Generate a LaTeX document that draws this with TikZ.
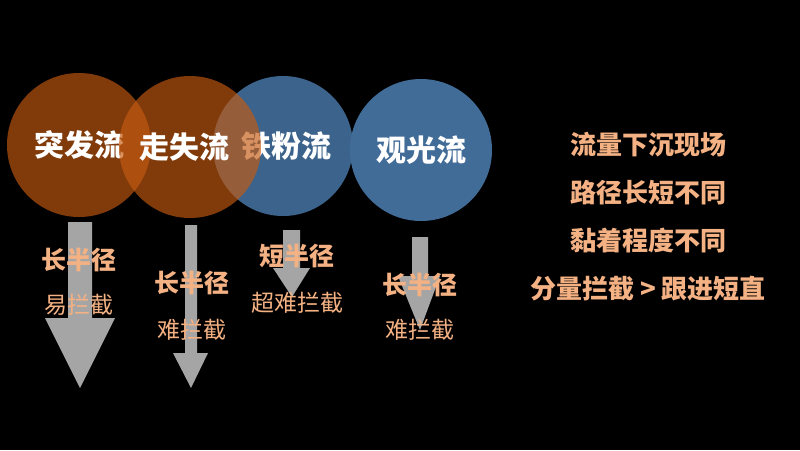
\documentclass[tikz,border=0pt]{standalone}
\usepackage{fontspec}
\newfontfamily\cjk{Noto Sans CJK SC}
\begin{document}
\begin{tikzpicture}[x=1pt,y=-1pt,
  circ/.style={circle,minimum size=#1,inner sep=0pt},
  ctext/.style={text=white,font=\cjk\bfseries\fontsize{30}{33}\selectfont},
  otext/.style={text=peach,font=\cjk\bfseries\fontsize{25}{28}\selectfont},
  stext/.style={text=peach,font=\cjk\fontsize{23}{26}\selectfont},
  rtext/.style={text=peach,font=\cjk\bfseries\fontsize{26}{30}\selectfont},
  garrow/.style={fill=arrgray}]
\definecolor{peach}{RGB}{244,177,131}
\definecolor{orng}{RGB}{197,90,17}
\definecolor{blu}{RGB}{66,108,152}
\definecolor{arrgray}{RGB}{165,165,165}
\fill[black] (0,0) rectangle (800,450);
\useasboundingbox (0,0) rectangle (800,450);
% arrows
\fill[garrow] (68,222) -- (92,222) -- (92,318) -- (115,318) -- (80,388) -- (45,318) -- (68,318) -- cycle;
\fill[garrow] (185,225) -- (197,225) -- (197,353) -- (208,353) -- (191,388) -- (173,353) -- (185,353) -- cycle;
\fill[garrow] (283,230) -- (300,230) -- (300,268) -- (310,268) -- (292,297) -- (273,268) -- (283,268) -- cycle;
\fill[garrow] (412,237) -- (428,237) -- (428,276) -- (440,276) -- (420,330) -- (398,276) -- (412,276) -- cycle;
% circles
\node[circ=142pt,fill=blu] (c4) at (421,150) {};
\node[ctext] (t4) at (421,150) {观光流};
\node[circ=140pt,fill=blu,fill opacity=0.92] (c3) at (283,146) {};
\node[ctext] (t3) at (286,146) {铁粉流};
\node[circ=144pt,fill=orng,fill opacity=0.66] (c1) at (79,145) {};
\node[ctext] (t1) at (79,145) {突发流};
\node[circ=142pt,fill=orng,fill opacity=0.66] (c2) at (190,147) {};
\node[ctext] (t2) at (184,147) {走失流};
% labels
\node[otext] (l1) at (79,260) {长半径};
\node[stext] (s1) at (79,305) {易拦截};
\node[otext] (l2) at (192,283) {长半径};
\node[stext] (s2) at (192,330) {难拦截};
\node[otext] (l3) at (297,256) {短半径};
\node[stext] (s3) at (297,303) {超难拦截};
\node[otext] (l4) at (420,285) {长半径};
\node[stext] (s4) at (420,330) {难拦截};
% right text
\node[rtext] (r1) at (648,145) {流量下沉现场};
\node[rtext] (r2) at (648,193) {路径长短不同};
\node[rtext] (r3) at (648,241) {黏着程度不同};
\node[rtext] (r4) at (648,289) {分量拦截 > 跟进短直};
\end{tikzpicture}
\end{document}
